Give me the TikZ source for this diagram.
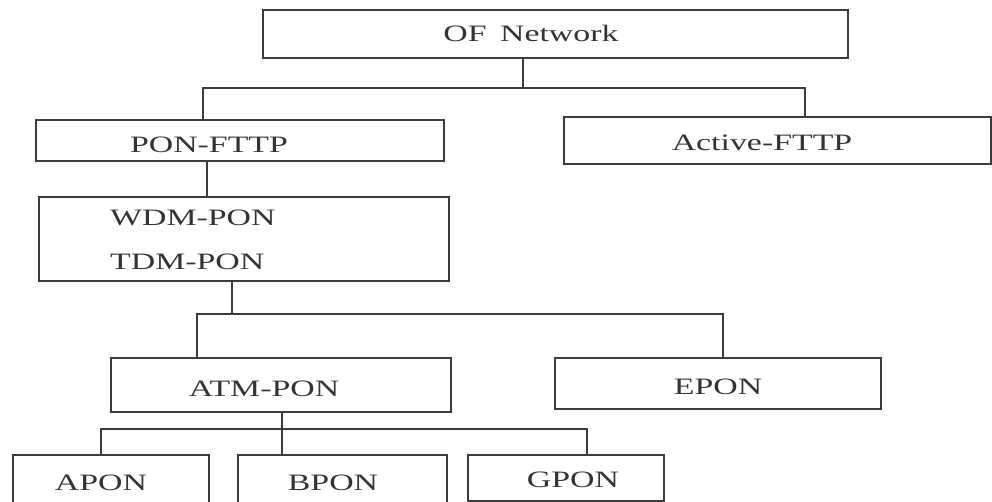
\documentclass[tikz,border=0pt]{standalone}
\usepackage{fontspec}
\setmainfont{Liberation Serif}[FakeStretch=1.44]
\definecolor{linecol}{HTML}{3C3C3C}
\definecolor{txtcol}{HTML}{333333}
\begin{document}
\begin{tikzpicture}[x=1pt,y=-1pt,
  box/.style={draw=linecol, line width=1.9pt, inner sep=0pt, anchor=north west},
  lbl/.style={text=txtcol, font=\fontsize{23.5}{28}\selectfont, inner sep=0pt},
  wire/.style={draw=linecol, line width=1.9pt}]
\useasboundingbox (0,0) rectangle (992,501);
\clip (0,0) rectangle (992,501);

% boxes (top-left corner, size)
\node[box, minimum width=585pt, minimum height=48pt] (of)   at (262,9)   {};
\node[box, minimum width=408pt, minimum height=41pt] (pon)  at (35,119)  {};
\node[box, minimum width=427pt, minimum height=47pt] (act)  at (563,116) {};
\node[box, minimum width=410pt, minimum height=84pt] (wdm)  at (38,196)  {};
\node[box, minimum width=340pt, minimum height=54pt] (atm)  at (110,357) {};
\node[box, minimum width=326pt, minimum height=51pt] (epon) at (554,357) {};
\node[box, minimum width=196pt, minimum height=60pt] (apon) at (12,454)  {};
\node[box, minimum width=209pt, minimum height=60pt] (bpon) at (237,454) {};
\node[box, minimum width=196pt, minimum height=46pt] (gpon) at (467,454) {};

% labels
\node[lbl] (tof)   at (531,33)  {OF\hspace{5pt} Network};
\node[lbl] (tpon)  at (209,145) {PON-FTTP};
\node[lbl] (tact)  at (762,143) {Active-FTTP};
\node[lbl, anchor=west] (twdm) at (110,218) {WDM-PON};
\node[lbl, anchor=west] (ttdm) at (110,262) {TDM-PON};
\node[lbl] (tatm)  at (264,389) {ATM-PON};
\node[lbl] (tepon) at (718,387) {EPON};
\node[lbl] (tapon) at (101,483) {APON};
\node[lbl] (tbpon) at (333,483) {BPON};
\node[lbl] (tgpon) at (573,480) {GPON};

% connector junctions
\coordinate (t)  at (523,88);
\coordinate (tl) at (203,88);
\coordinate (tr) at (805,88);
\coordinate (pw) at (207,170);
\coordinate (m)  at (232,314);
\coordinate (ml) at (197,314);
\coordinate (mr) at (723,314);
\coordinate (b)  at (282,429);
\coordinate (bl) at (101,429);
\coordinate (br) at (587,429);

% connectors
\draw[wire] (t |- of.south) -- (t);
\draw[wire] (tl |- pon.north) -- (tl) -- (tr) -- (tr |- act.north);
\draw[wire] (pw |- pon.south) -- (pw |- wdm.north);
\draw[wire] (m |- wdm.south) -- (m);
\draw[wire] (ml |- atm.north) -- (ml) -- (mr) -- (mr |- epon.north);
\draw[wire] (b |- atm.south) -- (b |- bpon.north);
\draw[wire] (bl |- apon.north) -- (bl) -- (br) -- (br |- gpon.north);
\end{tikzpicture}
\end{document}
